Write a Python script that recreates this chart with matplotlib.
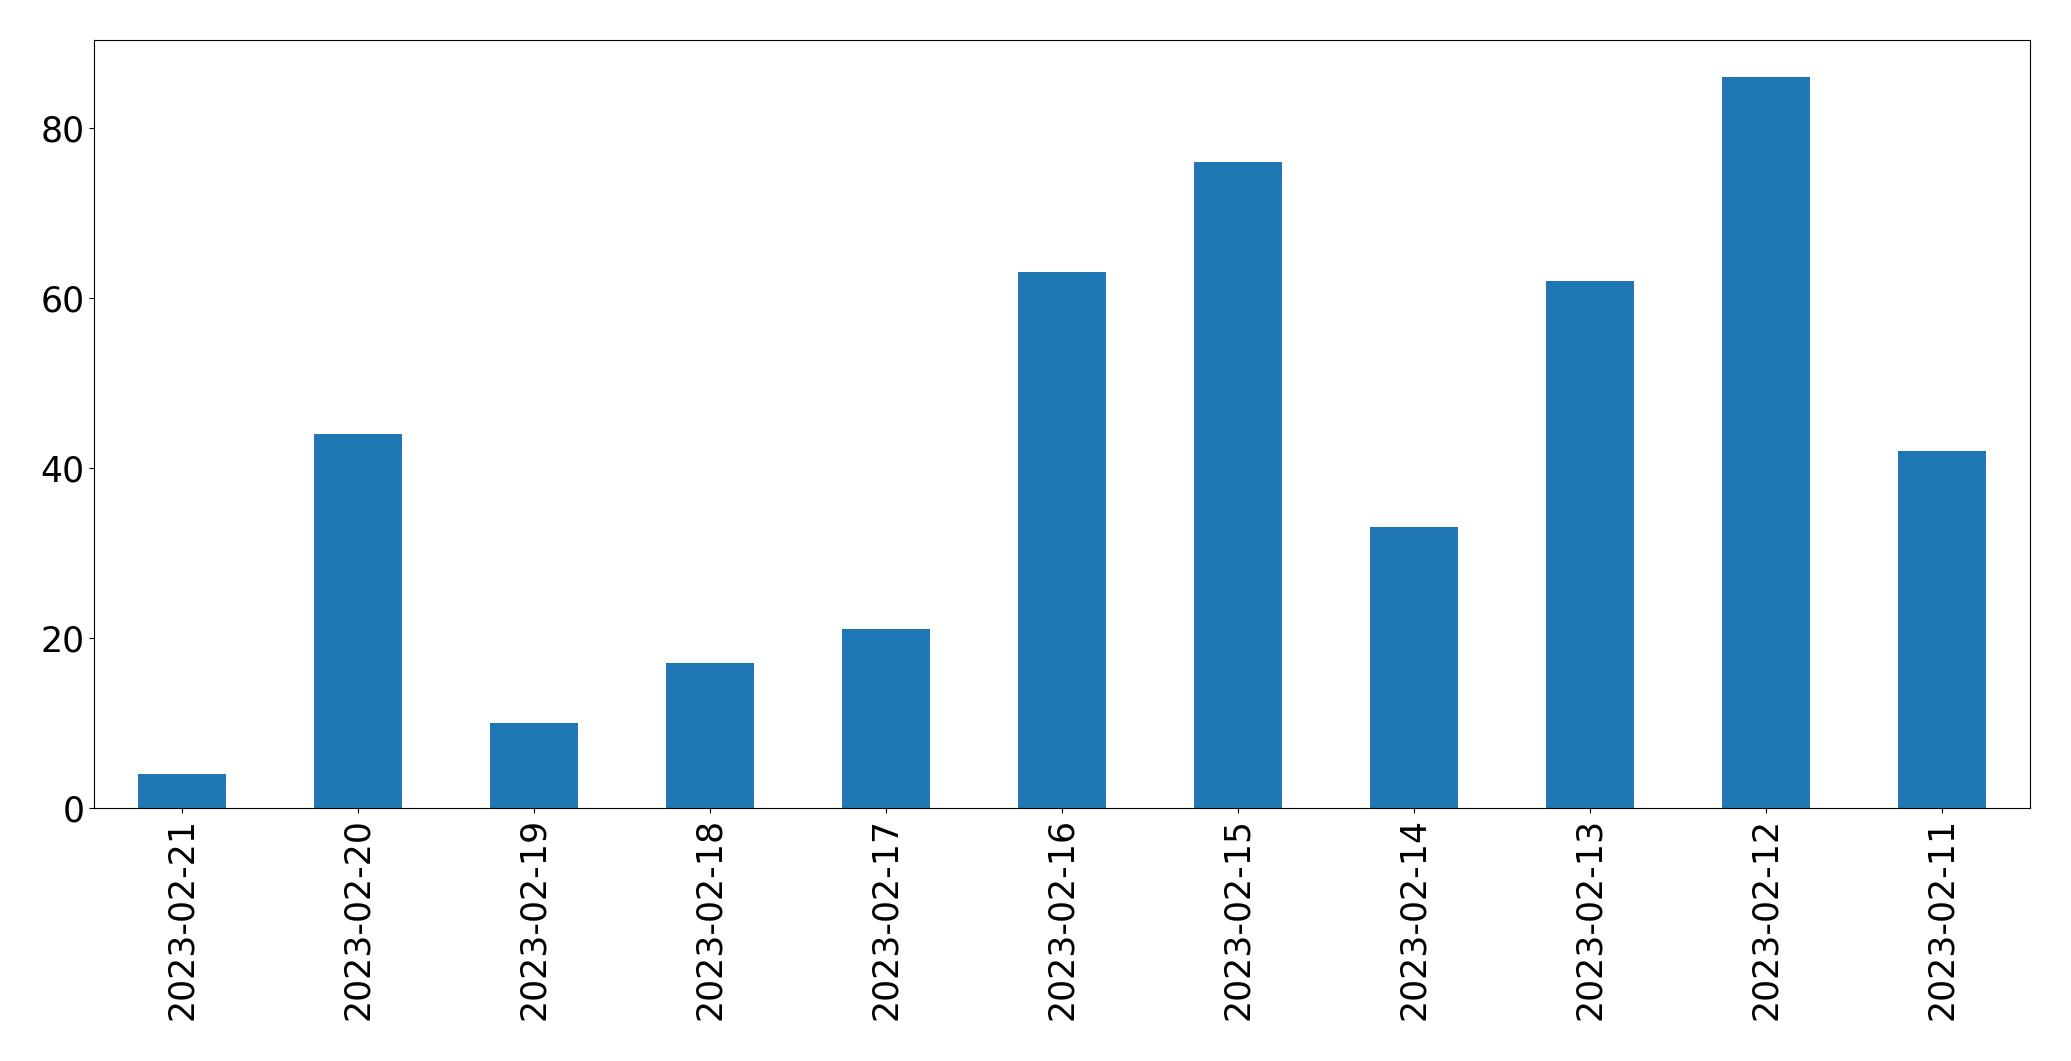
import matplotlib
matplotlib.use("Agg")
import matplotlib.pyplot as plt

dates = ["2023-02-21", "2023-02-20", "2023-02-19", "2023-02-18", "2023-02-17",
         "2023-02-16", "2023-02-15", "2023-02-14", "2023-02-13", "2023-02-12",
         "2023-02-11"]
counts = [4, 44, 10, 17, 21, 63, 76, 33, 62, 86, 42]

fig = plt.figure(figsize=(20.71, 10.61), dpi=100)
ax = fig.add_axes([0.0454, 0.2385, 0.9348, 0.7238])
x = list(range(len(dates)))
ax.bar(x, counts, width=0.5, color="#1f77b4")
ax.set_xlim(-0.5, len(dates) - 0.5)
ax.set_xticks(x)
ax.set_xticklabels(dates, rotation=90)
ax.tick_params(axis="both", labelsize=25)
fig.savefig("out.png", dpi=100)
